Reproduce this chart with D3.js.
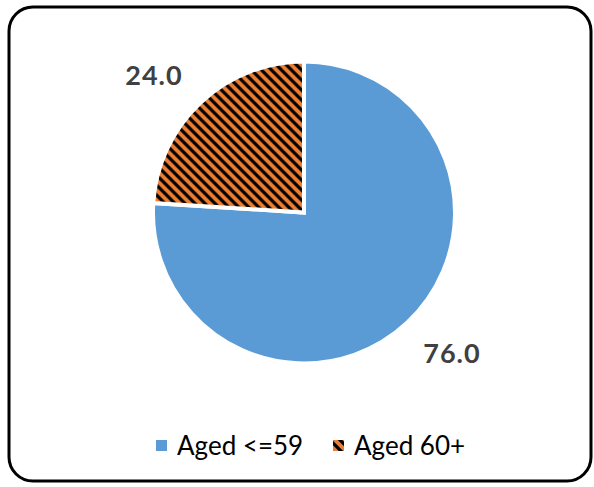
<!DOCTYPE html>
<html>
<head>
<meta charset="utf-8">
<script src="https://cdn.jsdelivr.net/npm/d3@7/dist/d3.min.js"></script>
<style>
  html, body { margin: 0; padding: 0; background: #fff; }
  svg { display: block; }
</style>
</head>
<body>
<svg id="chart" width="594" height="487"></svg>
<script>
// Age groups and their shares (%)
const categories = ["Aged <=59", "Aged 60+"];
const values = [76.0, 24.0];
const colors = ["#5B9BD5", "#ED7D31"];

const svg = d3.select("#chart");
const W = 594, H = 487;
const font = "Lato, 'Open Sans', sans-serif";

// Diagonal hatch pattern for the second slice
const P = 10;
const defs = svg.append("defs");
const pat = defs.append("pattern")
  .attr("id", "hatch")
  .attr("patternUnits", "userSpaceOnUse")
  .attr("width", P).attr("height", P);
pat.append("rect").attr("width", P).attr("height", P).attr("fill", colors[1]);
pat.append("path")
  .attr("d", `M-2,-2 L${P + 2},${P + 2} M${-P - 2},-2 L2,${P + 2} M${P - 2},-2 L${2 * P + 2},${P + 2}`)
  .attr("stroke", "#000").attr("stroke-width", 3.2);

// Outer rounded frame
svg.append("rect")
  .attr("x", 9).attr("y", 7)
  .attr("width", W - 12).attr("height", H - 13)
  .attr("rx", 24).attr("ry", 24)
  .attr("fill", "#fff").attr("stroke", "#000").attr("stroke-width", 3);

const cx = 304, cy = 212.5, r = 151;

const pie = d3.pie().sort(null).value(d => d.v);
const arcs = pie(categories.map((c, i) => ({ c, v: values[i], i })));
const arc = d3.arc().innerRadius(0).outerRadius(r);

const g = svg.append("g").attr("transform", `translate(${cx},${cy})`);
g.selectAll("path.slice")
  .data(arcs)
  .join("path")
  .attr("class", "slice")
  .attr("d", arc)
  .attr("fill", d => d.data.i === 1 ? "url(#hatch)" : colors[0])
  .attr("stroke", "#fff")
  .attr("stroke-width", 4)
  .attr("stroke-linejoin", "miter");

// Value labels outside the slices
const labelPos = [[148, 150.5], [-150, -127.5]];
g.selectAll("text.val")
  .data(arcs)
  .join("text")
  .attr("class", "val")
  .attr("x", (d, i) => labelPos[i][0])
  .attr("y", (d, i) => labelPos[i][1])
  .attr("text-anchor", "middle")
  .attr("font-family", font)
  .attr("font-weight", "bold")
  .attr("font-size", 27)
  .attr("letter-spacing", 1)
  .attr("fill", "#404040")
  .text(d => d.data.v.toFixed(1));

// Legend
const legendX = [156, 333];
const lg = svg.append("g");
categories.forEach((c, i) => {
  lg.append("rect")
    .attr("x", legendX[i]).attr("y", 440)
    .attr("width", 11).attr("height", 11)
    .attr("fill", i === 1 ? "url(#hatch)" : colors[0]);
  lg.append("text")
    .attr("x", legendX[i] + 21).attr("y", 455)
    .attr("font-family", font)
    .attr("font-size", 26)
    .attr("fill", "#000")
    .text(c);
});
</script>
</body>
</html>
